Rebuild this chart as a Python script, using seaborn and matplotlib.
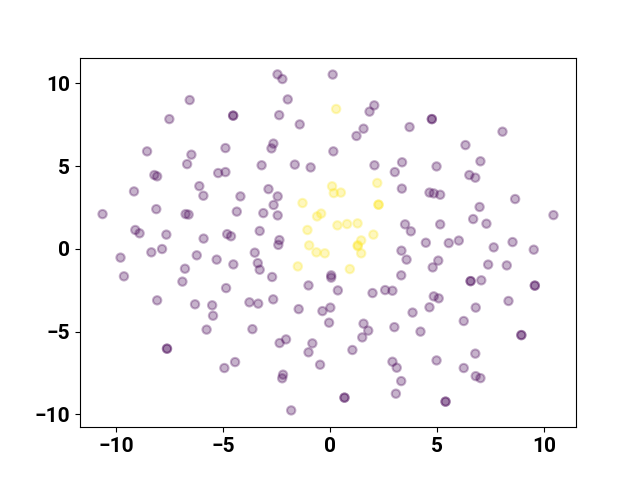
import numpy as np
import pandas as pd
import matplotlib
matplotlib.use('Agg')
import matplotlib.pyplot as plt
import seaborn as sns

# cluster 0 (purple)
purple_x = [-6.56, -4.53, -4.53, -7.51, -8.55, -4.89, -6.48, -6.68, -8.21, -8.08,
            -5.23, -4.89, -6.11, -9.16, -5.92, -4.19, -8.12, -4.36, -10.63, -6.75,
            -6.61, -9.10, -8.90, -7.65, -5.91, -4.81, -4.63, -7.85, -8.35,
            -2.46, -2.23, 0.12, -1.98, 2.06, 1.84, -2.38, -1.42, 1.56, 1.23,
            3.71, -2.65, -2.74, 0.15, -3.20, -1.65, -0.91, 2.07, 3.36, 3.02,
            -2.88, -2.45, -2.64, -3.12, -2.45, -3.29, -2.37, -2.42, 3.35, 3.50,
            3.77, 3.33,
            -3.52, -3.38, -3.29, -2.71, -1.01, 0.05, 0.05, 0.36, 1.98, 2.57,
            2.91, 3.57, 3.32, 3.85, -3.77, -3.36, -2.66, -1.47, -0.36, 0.01,
            -0.05, 1.56, 1.78, 1.50, 3.00, -3.63, -2.36, -2.06, -0.83, -1.01,
            1.04, -0.47, 2.91, 3.11, -2.20, -2.24, 3.32, 3.07, 0.67, 0.67, -1.82,
            -9.79, -9.63, -6.23, -5.30, -4.52, -6.78, -6.90, -4.86, -8.08, -6.31,
            -5.51, -5.47, -5.77, -7.62, -7.62, -4.94, -4.44,
            4.75, 4.75, 8.05, 6.32, 7.02, 4.97, 6.50, 6.78, 4.64, 4.84,
            5.14, 8.64, 6.98, 6.68, 7.30, 10.43, 5.14, 4.47, 5.54, 6.01,
            7.64, 8.52, 9.51,
            5.05, 4.79, 7.38, 8.25, 6.56, 6.56, 7.06, 9.56, 9.56, 4.84,
            5.07, 4.64, 6.80, 8.33, 6.24, 4.22, 8.93, 8.93, 6.78, 4.97,
            6.24, 6.80, 7.02, 5.39, 5.39]
purple_y = [8.99, 8.05, 8.05, 7.84, 5.89, 6.09, 5.69, 5.12, 4.46, 4.38,
            4.58, 4.64, 3.79, 3.47, 3.21, 3.17, 2.40, 2.25, 2.10, 2.10,
            2.07, 1.14, 0.94, 0.86, 0.62, 0.89, 0.76, -0.01, -0.21,
            10.54, 10.26, 10.53, 9.03, 8.67, 8.29, 8.08, 7.52, 7.26, 6.82,
            7.36, 6.36, 6.07, 5.89, 5.05, 5.09, 4.92, 5.05, 5.23, 4.64,
            3.61, 3.17, 2.65, 2.16, 2.02, 1.08, 0.53, 0.24, 3.64, 1.48,
            1.06, -0.11,
            -0.23, -0.86, -1.26, -1.70, -2.21, -1.60, -1.74, -2.51, -2.67, -2.49,
            -2.53, -0.65, -1.60, -3.85, -3.23, -3.31, -3.05, -3.64, -3.76, -3.55,
            -4.46, -4.52, -4.94, -5.35, -4.73, -4.85, -5.69, -5.47, -5.71, -6.25,
            -6.11, -7.00, -6.82, -7.18, -7.60, -7.82, -7.99, -8.75, -8.99, -8.99, -9.76,
            -0.53, -1.66, -0.39, -0.65, -0.94, -1.20, -1.98, -2.37, -3.11, -3.35,
            -3.41, -4.04, -4.88, -6.03, -6.03, -7.20, -6.84,
            7.84, 7.84, 7.08, 6.27, 5.29, 4.98, 4.46, 4.30, 3.40, 3.35,
            3.27, 3.01, 2.53, 1.80, 1.52, 2.04, 1.48, 0.37, 0.35, 0.50,
            0.09, 0.41, -0.05,
            -0.71, -1.12, -0.95, -1.00, -1.95, -1.95, -1.90, -2.22, -2.22, -2.87,
            -2.99, -3.53, -3.55, -3.15, -4.36, -5.00, -5.21, -5.21, -6.33, -6.74,
            -7.20, -7.69, -7.81, -9.23, -9.23]

# cluster 1 (yellow)
yellow_x = [0.28, 0.09, 0.17, 0.50, 2.20, -1.29, 2.26, 2.26, -0.61, -0.42,
            0.34, 0.79, 1.28, -1.06, 2.02, 1.45, 1.29, 1.29, -0.98, -0.64,
            -0.25, 1.45, -1.51, 0.92]
yellow_y = [8.45, 3.78, 3.37, 3.40, 3.98, 2.77, 2.67, 2.67, 1.96, 2.13,
            1.42, 1.50, 1.54, 1.14, 0.86, 0.51, 0.16, 0.22, 0.21, -0.21,
            -0.27, -0.27, -1.06, -1.22]

df = pd.DataFrame({
    'x': purple_x + yellow_x,
    'y': purple_y + yellow_y,
    'cluster': [0] * len(purple_x) + [1] * len(yellow_x),
})

plt.rcParams['font.family'] = ['Roboto', 'DejaVu Sans']
plt.rcParams['font.weight'] = 'bold'

fig, ax = plt.subplots(figsize=(6.4, 4.8), dpi=100)
sns.scatterplot(data=df, x='x', y='y', hue='cluster',
                palette={0: '#440154', 1: '#fde725'},
                alpha=0.3, s=36, edgecolor='face', linewidth=1.5,
                legend=False, ax=ax)
ax.set_xlabel('')
ax.set_ylabel('')
ax.tick_params(labelsize=15)
for lab in ax.get_xticklabels() + ax.get_yticklabels():
    lab.set_fontweight('bold')

fig.savefig('out.png', dpi=100)
